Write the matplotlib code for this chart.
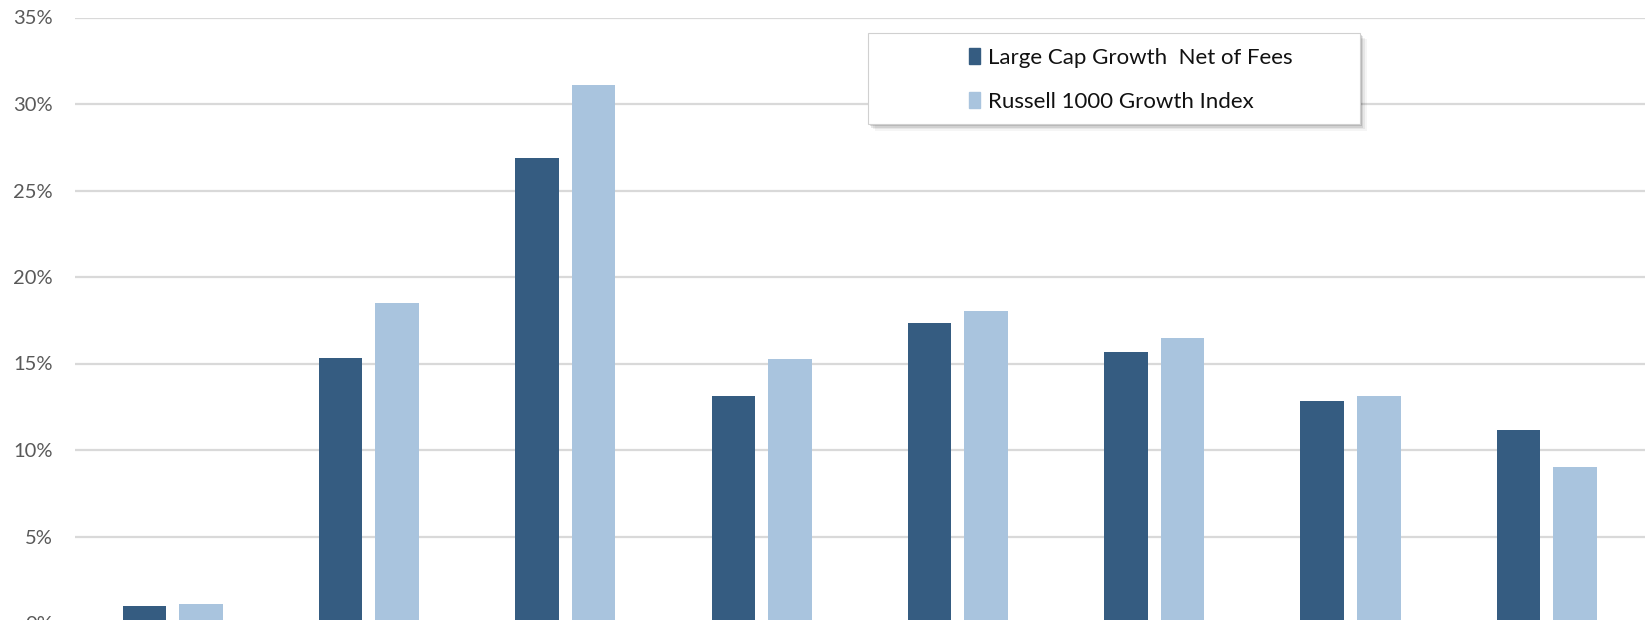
import matplotlib
matplotlib.use("Agg")
import matplotlib.pyplot as plt
from matplotlib.patches import Rectangle, Patch
from matplotlib.ticker import FuncFormatter
import numpy as np

categories = ["Period 1", "Period 2", "Period 3", "Period 4",
              "Period 5", "Period 6", "Period 7", "Period 8"]
large_cap_growth_net = [1.0, 15.3, 26.85, 13.15, 17.35, 15.65, 12.85, 11.15]
russell_1000_growth = [1.1, 18.5, 31.1, 15.25, 18.05, 16.5, 13.15, 9.0]
series_names = ["Large Cap Growth  Net of Fees", "Russell 1000 Growth Index"]
y_ticks = [0, 5, 10, 15, 20, 25, 30, 35]

dark = "#355C81"
light = "#A9C4DE"
FONT = ["Lato", "DejaVu Sans"]

W, H = 1647, 620
fig = plt.figure(figsize=(W / 100, H / 100), dpi=100)
fig.patch.set_facecolor("white")

left_px, right_px = 74.5, 1645
top_px, zero_px = 17.5, 623
ax = fig.add_axes([left_px / W, (H - zero_px) / H,
                   (right_px - left_px) / W, (zero_px - top_px) / H])

x = np.arange(len(categories))
bw = 0.222
off = 0.144
ax.bar(x - off, large_cap_growth_net, bw, color=dark, zorder=3, label=series_names[0])
ax.bar(x + off, russell_1000_growth, bw, color=light, zorder=3, label=series_names[1])

ax.set_xlim(-0.5, len(categories) - 0.5)
ax.set_ylim(0, 35)
ax.set_yticks(y_ticks)
ax.yaxis.set_major_formatter(FuncFormatter(lambda v, p: f"{v:.0f}%"))
ax.tick_params(axis="y", length=0, pad=15.5, labelsize=14.5, labelcolor="#595959")
for lbl in ax.get_yticklabels():
    lbl.set_family(FONT)
ax.set_xticks([])
ax.grid(axis="y", color="#D9D9D9", linewidth=1.6, zorder=0)
for s in ax.spines.values():
    s.set_visible(False)

# legend frame with soft shadow
bx0, by0, bx1, by1 = 868, 32.7, 1360, 124
for i, a in enumerate([0.12, 0.09, 0.06, 0.04]):
    d = 2 + i * 1.5
    fig.patches.append(Rectangle(((bx0 + d) / W, (H - by1 - d) / H),
                                 (bx1 - bx0) / W, (by1 - by0) / H,
                                 transform=fig.transFigure, facecolor="black",
                                 edgecolor="none", alpha=a, zorder=5))
fig.patches.append(Rectangle((bx0 / W, (H - by1) / H), (bx1 - bx0) / W, (by1 - by0) / H,
                             transform=fig.transFigure, facecolor="white",
                             edgecolor="#D0D0D0", linewidth=0.8, zorder=6))

handles = [Patch(color=dark), Patch(color=light)]
leg = fig.legend(handles, series_names, loc="upper left",
                 bbox_to_anchor=(969 / W, (H - 48) / H), frameon=False,
                 prop={"family": FONT, "size": 16}, handlelength=0.5,
                 handleheight=0.7, handletextpad=0.35, labelspacing=1.08,
                 borderpad=0, borderaxespad=0)
leg.set_zorder(7)
for t in leg.get_texts():
    t.set_color("#111111")

fig.savefig("out.png", dpi=100, facecolor="white")
